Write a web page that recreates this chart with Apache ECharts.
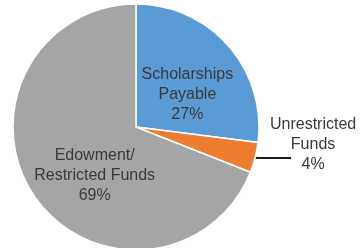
<!DOCTYPE html>
<html>
<head>
<meta charset="utf-8">
<script src="https://cdn.jsdelivr.net/npm/echarts@6/dist/echarts.min.js"></script>
<style>
    html, body {margin: 0; padding: 0; background: #fff;}
    #chart {width: 360px; height: 248px;}
</style>
</head>
<body>
<div id="chart"></div>
<script>
    const categories = ['Scholarships\nPayable', 'Unrestricted\nFunds', 'Edowment/\nRestricted Funds'];
    const values = [27, 4, 69];
    const colors = ['#5b9bd5', '#ed7d31', '#a5a5a5'];
    // nudges for the inside labels, so they sit where the original put them
    const labelShift = [[3, 10], [0, 0], [12, 12]];

    const chart = echarts.init(document.getElementById('chart'));
    const option = {
        animation: false,
        series: [{
                type: 'pie',
                center: [136, 127],
                radius: 123,
                startAngle: 90,
                clockwise: true,
                avoidLabelOverlap: false,
                itemStyle: {borderColor: '#fff', borderWidth: 1.5},
                label: {
                    show: true,
                    position: 'inside',
                    color: '#3a3a3a',
                    fontFamily: 'Liberation Sans, Arial, sans-serif',
                    fontSize: 16,
                    lineHeight: 20,
                    align: 'center',
                    formatter: p => p.name + '\n' + p.value + '%'
                },
                labelLine: {show: false},
                labelLayout: function (params) {
                    const s = labelShift[params.dataIndex];
                    if (params.dataIndex === 1)
                        return {};
                    return {dx: s[0], dy: s[1]};
                },
                data: categories.map((c, i) => {
                    const item = {name: c, value: values[i], itemStyle: {color: colors[i]}};
                    if (i === 1) {
                        item.label = {
                            position: 'outside',
                            distanceToLabelLine: -22,
                            formatter: p => p.name.split('\n').map(t => '{a|' + t + '}').join('\n') + '\n{a|' + p.value + '%}',
                            rich: {a: {width: 88, align: 'center', fontSize: 16, lineHeight: 20, color: '#3a3a3a',
                                    fontFamily: 'Liberation Sans, Arial, sans-serif'}},
                            padding: [0, 0, 26, 0]
                        };
                        item.labelLine = {show: true, length: 2, length2: 34, lineStyle: {color: '#1a1a1a', width: 2}};
                    }
                    return item;
                })
            }]
    };
    chart.setOption(option);
</script>
</body>
</html>
